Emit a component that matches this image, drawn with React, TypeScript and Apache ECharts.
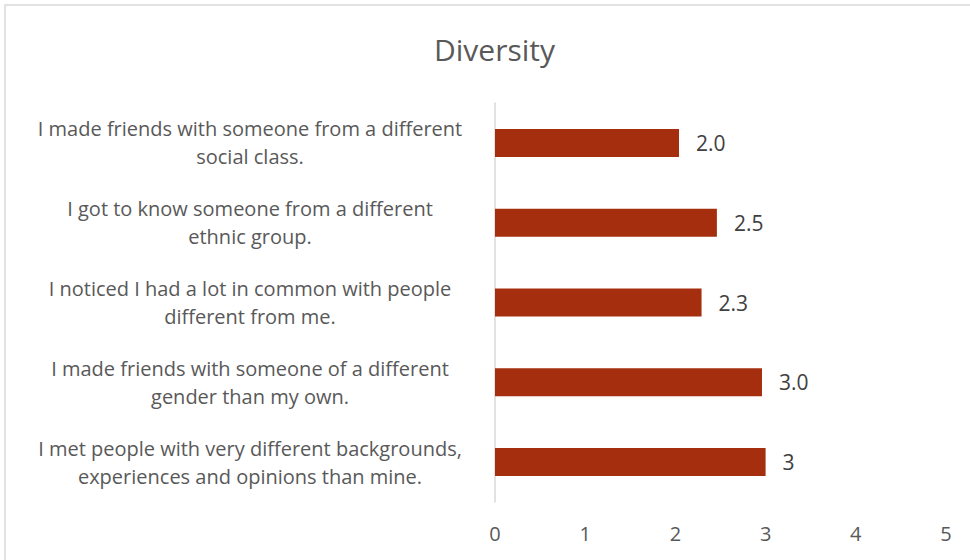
import React, { useEffect, useRef } from "react";
import * as echarts from "echarts";

const categories: string[] = [
  "I made friends with someone from a different\nsocial class.",
  "I got to know someone from a different\nethnic group.",
  "I noticed I had a lot in common with people\ndifferent from me.",
  "I made friends with someone of a different\ngender than my own.",
  "I met people with very different backgrounds,\nexperiences and opinions than mine.",
];
const values: number[] = [2.04, 2.46, 2.29, 2.96, 3.0];
const valueLabels: string[] = ["2.0", "2.5", "2.3", "3.0", "3"];
const xTicks: number[] = [0, 1, 2, 3, 4, 5];

const FONT = "'Open Sans', 'Noto Sans', sans-serif";

export default function App() {
  const ref = useRef<HTMLDivElement>(null);
  useEffect(() => {
    if (!ref.current) return;
    const chart = echarts.init(ref.current, null, { renderer: "svg" });
    chart.setOption({
      animation: false,
      backgroundColor: "#ffffff",
      title: {
        text: "Diversity",
        left: 429,
        top: 29,
        textStyle: { fontFamily: FONT, fontSize: 30, fontWeight: "normal", color: "#595959" },
      },
      graphic: [
        {
          type: "rect",
          shape: { x: 5, y: 5, width: 1000, height: 600 },
          style: { fill: "none", stroke: "#d9d9d9", lineWidth: 1.5 },
          silent: true,
        },
      ],
      grid: { left: 495, right: 24, top: 103, bottom: 58, containLabel: false },
      xAxis: {
        type: "value",
        min: xTicks[0],
        max: xTicks[xTicks.length - 1],
        interval: 1,
        axisLine: { show: false },
        axisTick: { show: false },
        splitLine: { show: false },
        axisLabel: { fontFamily: FONT, fontSize: 20, color: "#595959", margin: 21 },
      },
      yAxis: {
        type: "category",
        data: categories,
        inverse: true,
        axisLine: { show: true, lineStyle: { color: "#d9d9d9", width: 1.5 } },
        axisTick: { show: false },
        axisLabel: {
          fontFamily: FONT,
          fontSize: 20,
          color: "#595959",
          align: "center",
          margin: 245,
          lineHeight: 28,
        },
      },
      series: [
        {
          type: "bar",
          data: values,
          barWidth: 28,
          itemStyle: { color: "#a52e0f" },
          label: {
            show: true,
            position: "right",
            distance: 17,
            fontFamily: FONT,
            fontSize: 21,
            color: "#404040",
            formatter: (p: any) => valueLabels[p.dataIndex],
          },
        },
      ],
    });
    return () => chart.dispose();
  }, []);
  return (
    <div
      ref={ref}
      style={{ position: "fixed", left: 0, top: 0, width: 970, height: 560 }}
    />
  );
}
